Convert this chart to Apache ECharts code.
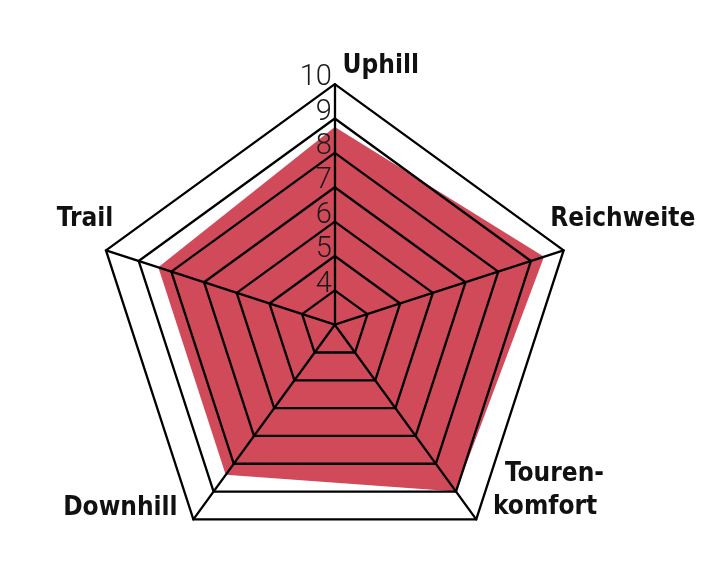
<!DOCTYPE html>
<html>
<head>
<meta charset="utf-8">
<script src="https://cdn.jsdelivr.net/npm/echarts@6/dist/echarts.min.js"></script>
<style>
html,body{margin:0;padding:0;background:#fff;}
#chart{width:712px;height:576px;}
</style>
</head>
<body>
<div id="chart"></div>
<script>
// Indicators in drawing order (counter-clockwise from top)
const categories = ['Uphill', 'Trail', 'Downhill', 'Tourenkomfort', 'Reichweite'];
const values = [8.75, 8.4, 8.4, 9.0, 9.4];
const tickLabels = ['4', '5', '6', '7', '8', '9', '10'];
const scaleMin = 3;
const scaleMax = 10;

const nameRich = {
  Uphill: '{u|Uphill}',
  Trail: '{tr|Trail}',
  Downhill: '{d|Downhill}',
  Tourenkomfort: '{t1|Touren-}\n{t2|komfort}\n{sp| }',
  Reichweite: '{r|Reichweite}'
};

const nameFont = "'Liberation Sans Narrow', 'DejaVu Sans Condensed', 'Arial Narrow', sans-serif";
const base = { fontFamily: nameFont, fontWeight: 'bold', fontSize: 26, color: '#111', lineHeight: 33 };

const chart = echarts.init(document.getElementById('chart'));
chart.setOption({
  backgroundColor: '#fff',
  animation: false,
  radar: {
    z: 3,
    center: [334.8, 324.7],
    radius: 240.6,
    shape: 'polygon',
    startAngle: 90,
    splitNumber: scaleMax - scaleMin,
    nameGap: -14,
    axisName: {
      formatter: function (name) { return nameRich[name] || name; },
      rich: {
        u: Object.assign({}, base, { padding: [0, 0, 31, 92] }),
        r: Object.assign({}, base, { padding: [0, 0, 70, 0] }),
        t1: Object.assign({}, base, { padding: [0, 0, 0, 37] }),
        t2: Object.assign({}, base, { padding: [0, 0, 0, 25] }),
        sp: { fontSize: 10, lineHeight: 34 },
        d: Object.assign({}, base, { padding: [0, 24, 0, 0] }),
        tr: Object.assign({}, base, { padding: [0, 6, 70, 0] })
      }
    },
    axisLine: { show: true, lineStyle: { color: '#000', width: 2.3 } },
    splitLine: { show: true, lineStyle: { color: '#000', width: 2.3 } },
    splitArea: { show: false },
    axisTick: { show: false },
    axisLabel: { show: false },
    indicator: categories.map(function (c, i) {
      const ind = { name: c, min: scaleMin, max: scaleMax, nameMoveOverlap: false };
      if (i === 0) {
        ind.axisLabel = {
          show: true,
          margin: 3,
          fontFamily: 'Roboto, "DejaVu Sans", sans-serif',
          fontWeight: 300,
          fontSize: 29,
          color: '#1a1a1a',
          verticalAlign: 'bottom',
          lineHeight: 12,
          formatter: function (v) {
            const s = String(Math.round(v));
            return tickLabels.indexOf(s) >= 0 ? s : '';
          }
        };
      }
      return ind;
    })
  },
  series: [{
    type: 'radar',
    z: 1,
    symbol: 'none',
    lineStyle: { width: 0 },
    areaStyle: { color: '#d04a5a', opacity: 1 },
    data: [{ value: values, name: 'Bike' }]
  }]
});
</script>
</body>
</html>
